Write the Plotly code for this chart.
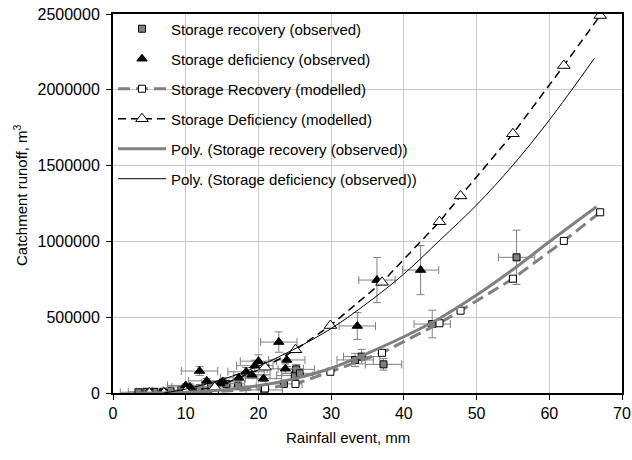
import plotly.graph_objects as go

# Observed storage recovery (grey squares)
rec_obs_x = [3.5, 4.6, 5.7, 6.9, 7.9, 9.4, 11.9, 13.5, 15.6, 17.2, 20.8, 23.5, 25.0, 25.2, 25.7, 33.3, 34.2, 37.2, 43.9, 55.5]
rec_obs_y = [5000, 8000, 8000, 8000, 15000, 20000, 30000, 40000, 60000, 45000, 20000, 60000, 115000, 156000, 130000, 218000, 240000, 189000, 455000, 895000]

# Observed storage deficiency (black triangles)
def_obs_x = [9.9, 10.0, 10.6, 11.9, 12.9, 14.7, 15.1, 17.3, 18.3, 19.1, 19.5, 20.0, 20.7, 22.8, 23.7, 23.9, 33.6, 36.3, 42.3]
def_obs_y = [13000, 50000, 40000, 145000, 80000, 64000, 75000, 100000, 140000, 120000, 180000, 210000, 95000, 336000, 160000, 218000, 442000, 745000, 811000]

# Modelled series
mod_x = [5, 7, 10, 14, 20.9, 25.1, 29.9, 37.0, 44.9, 47.8, 55.0, 62.0, 67.0]
rec_mod_y = [0, 0, 2000, 8000, 30000, 60000, 140000, 265000, 460000, 543000, 754000, 1003000, 1192000]
def_mod_y = [0, 0, 10000, 37000, 170000, 285000, 445000, 730000, 1130000, 1300000, 1710000, 2160000, 2490000]

# Polynomial trend lines
trend_rec_x = [3.5, 10, 15, 20, 25, 30, 35, 40, 45, 50, 55, 60, 66.5]
trend_rec_y = [0, 5000, 20000, 48000, 95000, 163000, 262000, 371000, 495000, 646000, 815000, 998000, 1229000]
trend_def_x = [7, 10, 15, 20, 25, 30, 35, 40, 45, 50, 55, 60, 66.2]
trend_def_y = [0, 26000, 89000, 177000, 291000, 425000, 594000, 785000, 1010000, 1240000, 1503000, 1800000, 2207000]

names = [
    "Storage recovery (observed)",
    "Storage deficiency (observed)",
    "Storage Recovery (modelled)",
    "Storage Deficiency (modelled)",
    "Poly. (Storage recovery (observed))",
    "Poly. (Storage deficiency (observed))",
]
x_title = "Rainfall event, mm"
y_title = "Catchment runoff, m<sup>3</sup>"

FONT = "Liberation Sans, Arial"
GREY = "#808080"
err_y = dict(type="percent", value=20, color=GREY, thickness=1, width=4)
err_x = dict(type="constant", value=2.5, color=GREY, thickness=1, width=4)

fig = go.Figure()
fig.add_trace(go.Scatter(
    x=rec_obs_x, y=rec_obs_y, mode="markers", name=names[0], legendgroup="a",
    marker=dict(symbol="square", size=7, color=GREY, line=dict(color="black", width=1)),
    error_y=err_y, error_x=err_x))
fig.add_trace(go.Scatter(
    x=def_obs_x, y=def_obs_y, mode="markers", name=names[1], legendgroup="b",
    marker=dict(symbol="triangle-up", size=9, color="black", line=dict(color="black", width=1)),
    error_y=err_y, error_x=err_x))
fig.add_trace(go.Scatter(
    x=mod_x, y=rec_mod_y, mode="lines+markers", name=names[2], legendgroup="c",
    line=dict(color=GREY, width=3, dash="12px,6px"),
    marker=dict(symbol="square", size=7, color="white", line=dict(color="black", width=1))))
fig.add_trace(go.Scatter(
    x=mod_x, y=def_mod_y, mode="lines+markers", name=names[3], legendgroup="d",
    line=dict(color="black", width=1.5, dash="8px,5px"),
    marker=dict(symbol="triangle-up", size=11, color="white", line=dict(color="black", width=1))))
fig.add_trace(go.Scatter(
    x=trend_rec_x, y=trend_rec_y, mode="lines", name=names[4], legendgroup="e",
    line=dict(color=GREY, width=3, shape="spline")))
fig.add_trace(go.Scatter(
    x=trend_def_x, y=trend_def_y, mode="lines", name=names[5], legendgroup="f",
    line=dict(color="black", width=1, shape="spline")))

axis_common = dict(
    showline=True, linecolor="black", linewidth=2, mirror=True,
    ticks="outside", ticklen=5, tickcolor="black", tickwidth=1,
    showgrid=True, gridcolor="#c8c8c8", gridwidth=1, zeroline=False,
    automargin=False,
    tickfont=dict(family=FONT, size=16, color="black"),
)

fig.update_layout(
    width=632, height=460,
    margin=dict(l=113, r=10, t=14, b=67),
    paper_bgcolor="white", plot_bgcolor="white",
    font=dict(family=FONT, size=15, color="black"),
    xaxis=dict(range=[0, 70], dtick=10, **axis_common),
    yaxis=dict(range=[0, 2500000], dtick=500000, tickformat="d",
               ticklabelstandoff=3, **axis_common),
    legend=dict(x=0.0, y=1.004, xanchor="left", yanchor="top", bgcolor="rgba(0,0,0,0)",
                borderwidth=0, tracegroupgap=7.5, itemwidth=48,
                font=dict(size=15, family=FONT)),
    showlegend=True,
    shapes=[
        # white legend panel hiding the grid behind the legend
        dict(type="rect", xref="paper", yref="paper", x0=0.004, x1=0.593, y0=0.522, y1=0.996,
             fillcolor="white", line=dict(width=0), layer="between"),
    ],
    annotations=[
        dict(text=x_title, xref="paper", yref="paper", x=0.462, y=-0.118,
             xanchor="center", yanchor="middle", showarrow=False,
             font=dict(size=15, family=FONT)),
        dict(text=y_title, xref="paper", yref="paper", x=-0.183, y=0.522,
             xanchor="center", yanchor="middle", showarrow=False, textangle=-90,
             font=dict(size=15, family=FONT)),
    ],
)

fig.write_html("out.html")
